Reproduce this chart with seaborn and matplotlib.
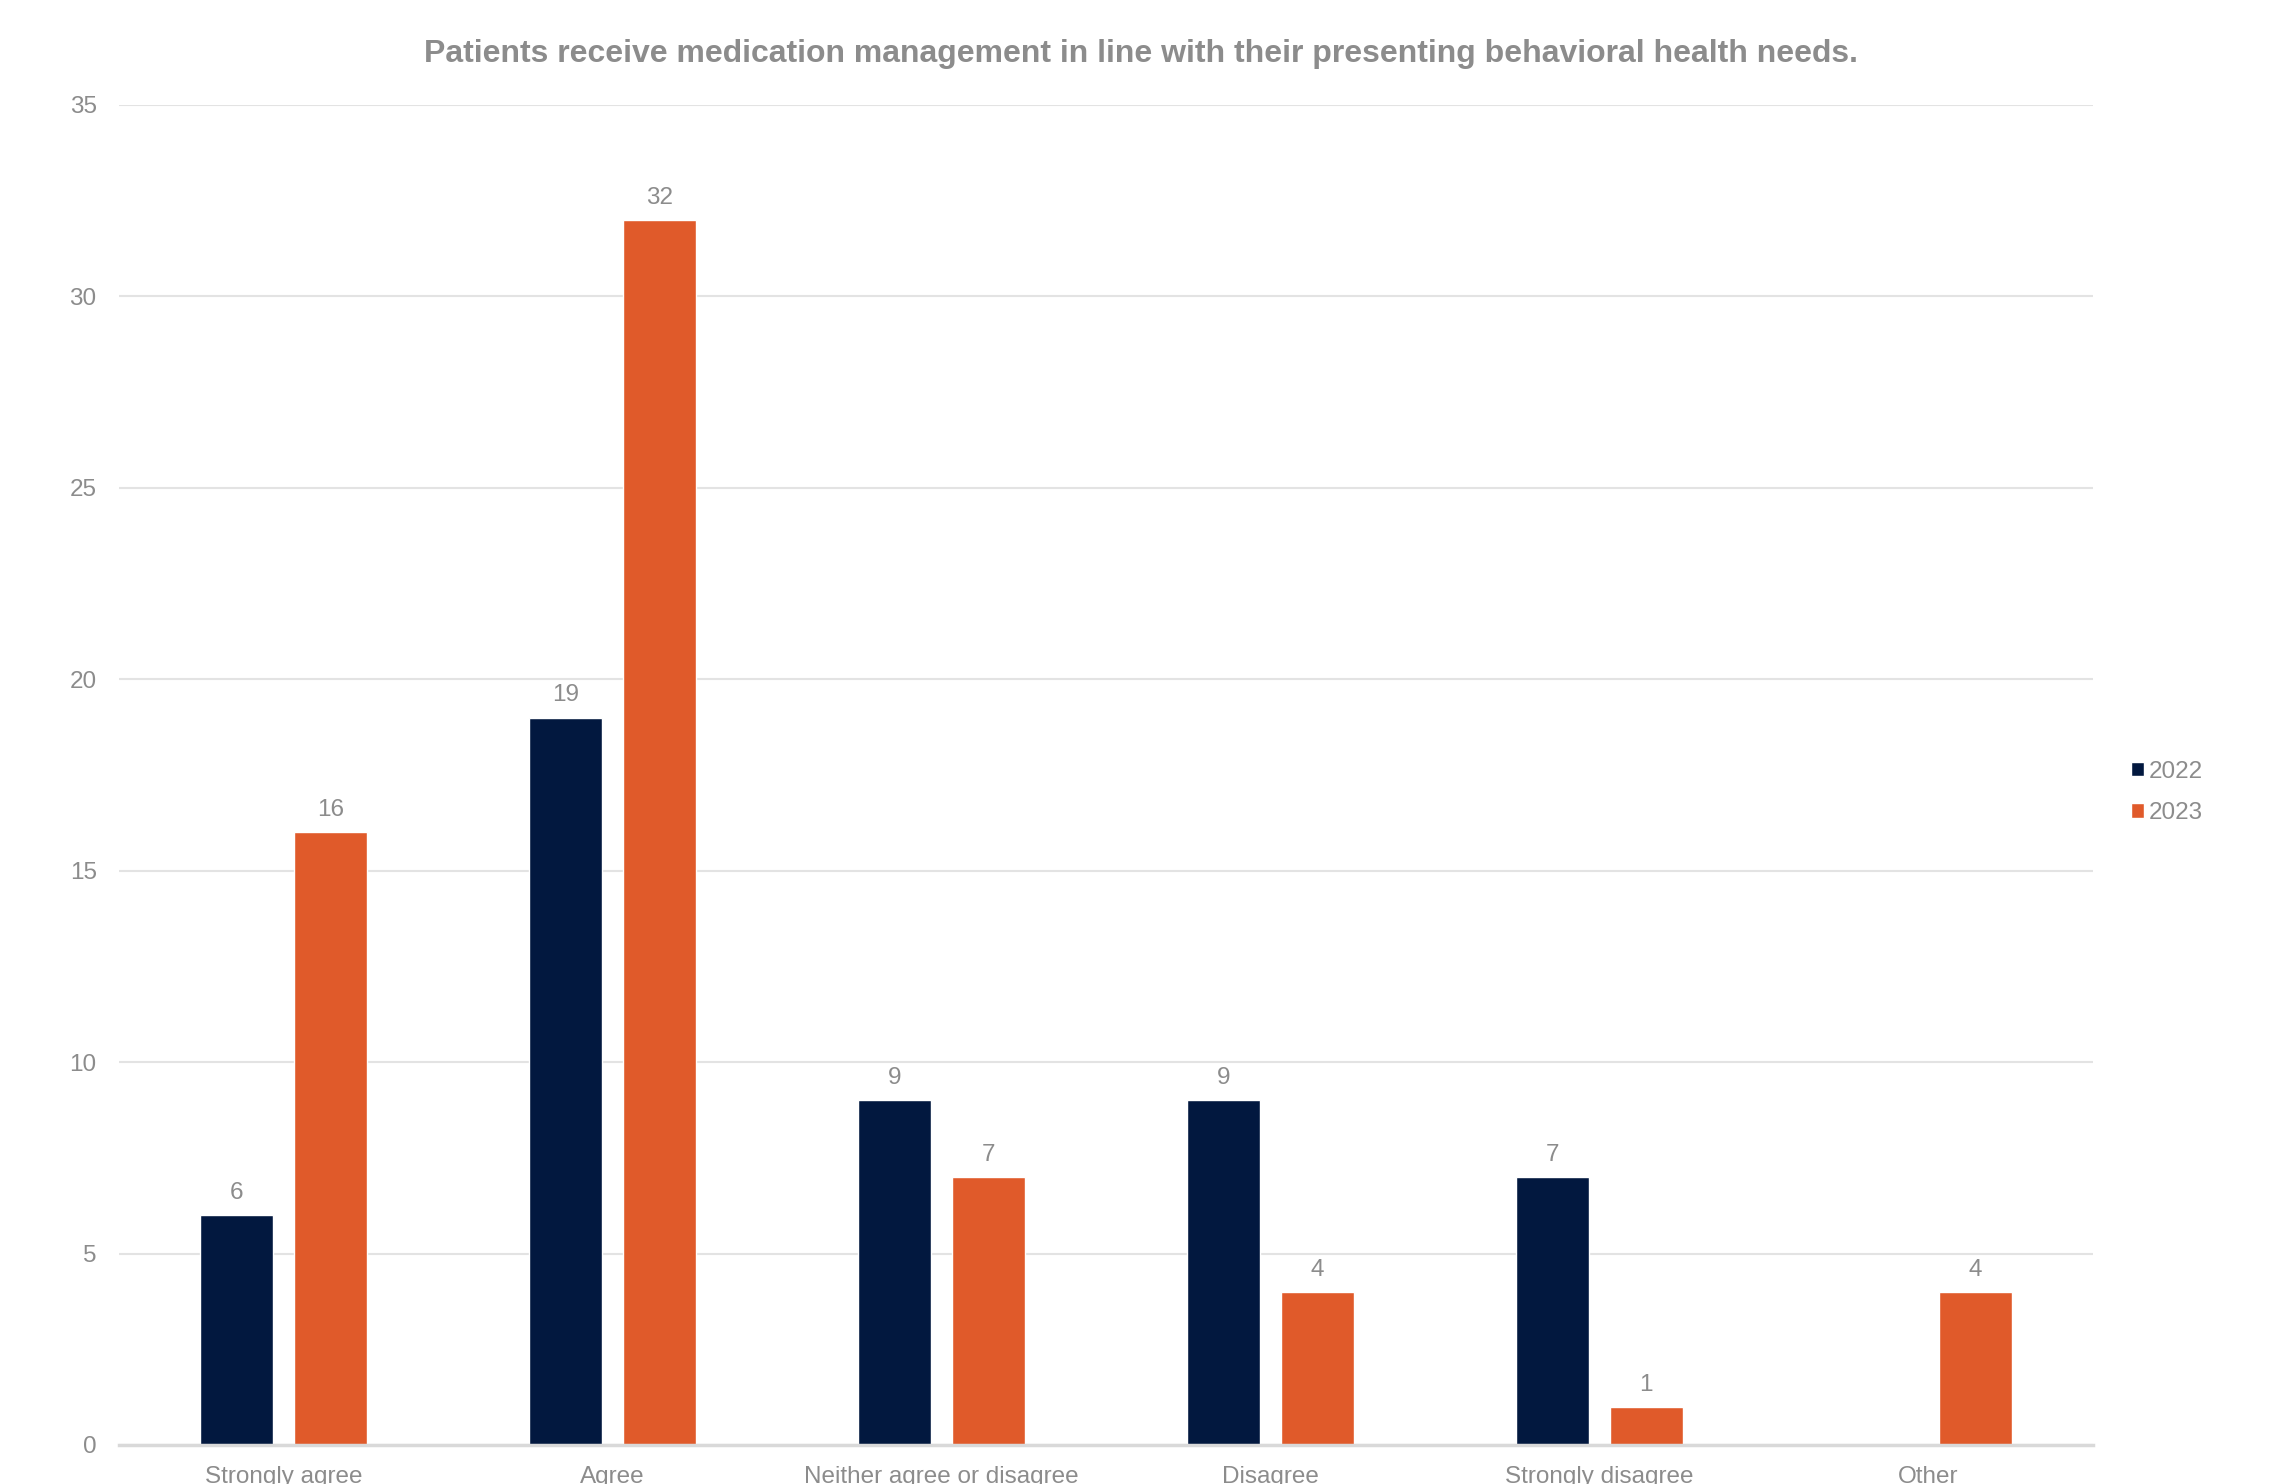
import numpy as np
import pandas as pd
import matplotlib
matplotlib.use("Agg")
import matplotlib.pyplot as plt
import seaborn as sns

categories = ["Strongly agree", "Agree", "Neither agree or disagree",
              "Disagree", "Strongly disagree", "Other"]
years = ["2022", "2023"]
values_2022 = [6, 19, 9, 9, 7, np.nan]
values_2023 = [16, 32, 7, 4, 1, 4]
y_ticks = [0, 5, 10, 15, 20, 25, 30, 35]

title = "Patients receive medication management in line with their presenting behavioral health needs."

navy = "#02183F"
orange = "#E05A2A"
text_gray = "#8C8C8C"
grid_gray = "#E3E3E3"

df = pd.DataFrame({
    "category": categories * 2,
    "year": [years[0]] * len(categories) + [years[1]] * len(categories),
    "count": values_2022 + values_2023,
})

sns.set_theme(style="white")
plt.rcParams["font.family"] = ["Liberation Sans", "DejaVu Sans"]

fig = plt.figure(figsize=(22.82, 14.84), dpi=100)
ax = fig.add_axes([0.0521, 0.0263, 0.8651, 0.9030])

sns.barplot(data=df, x="category", y="count", hue="year", order=categories,
            hue_order=years, palette=[navy, orange], saturation=1,
            width=0.568, gap=0.22, ax=ax, legend=True)

ax.set_ylim(0, 35)
ax.set_xlim(-0.5, len(categories) - 0.5)
ax.set_yticks(y_ticks)
ax.yaxis.grid(True, color=grid_gray, linewidth=1.5)
ax.set_axisbelow(True)
for side in ["top", "right", "left"]:
    ax.spines[side].set_visible(False)
ax.spines["bottom"].set_color("#D9D9D9")
ax.spines["bottom"].set_linewidth(2.5)

ax.tick_params(axis="y", length=0, pad=16, labelsize=17.5, labelcolor=text_gray)
ax.tick_params(axis="x", length=0, pad=15, labelsize=17.5, labelcolor=text_gray)
ax.set_xlabel("")
ax.set_ylabel("")

for container in ax.containers:
    labels = ["" if np.isnan(v) else f"{int(v)}" for v in container.datavalues]
    ax.bar_label(container, labels=labels, padding=8, fontsize=17.5, color=text_gray)

fig.text(0.5, 0.9636, title, ha="center", va="center", fontsize=23,
         fontweight="bold", color=text_gray)

leg = ax.legend(loc="center left", bbox_to_anchor=(1.008, 0.487), frameon=False,
                fontsize=17.5, handlelength=0.55, handleheight=0.55,
                handletextpad=0.2, labelspacing=0.8)
for t in leg.get_texts():
    t.set_color(text_gray)

fig.savefig("out.png", dpi=100, facecolor="white")
